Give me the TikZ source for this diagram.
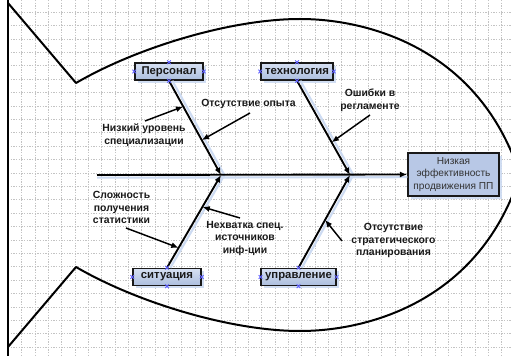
\documentclass[tikz,border=0pt]{standalone}
\usepackage{fontspec}
\setmainfont{Liberation Sans}
\usetikzlibrary{arrows.meta,shadows,calc}
\definecolor{boxtop}{RGB}{214,224,242}
\definecolor{boxbot}{RGB}{172,190,222}
\definecolor{shadec}{RGB}{205,219,242}
\definecolor{gridc}{RGB}{195,195,195}
\definecolor{markc}{RGB}{95,95,255}
\definecolor{textc}{RGB}{25,25,25}
\begin{document}
\begin{tikzpicture}[x=0.75pt,y=-0.75pt,
  causebox/.style={draw=black!90,line width=1.1pt,top color=boxtop,bottom color=boxbot,
    minimum height=12.75pt,inner sep=1pt,font=\fontsize{8.5}{10}\selectfont\bfseries,text=textc,
    drop shadow={shadow xshift=2.2pt,shadow yshift=-2.2pt,fill=shadec,opacity=0.9}},
  effbox/.style={draw=black!90,line width=1.1pt,fill={rgb,255:red,184;green,200;blue,230},
    minimum width=68.25pt,minimum height=32.25pt,inner sep=1pt,align=center,
    font=\fontsize{7.6}{9.3}\selectfont,text=black!80,
    drop shadow={shadow xshift=2.2pt,shadow yshift=-2.2pt,fill=shadec,opacity=0.9}},
  lbl/.style={align=center,inner sep=0pt,font=\fontsize{7.8}{9.5}\selectfont\bfseries,text=textc},
  bone/.style={line width=1.4pt,-{Latex[length=5.5pt,width=4.5pt]}},
  boneshadow/.style={line width=1.6pt,draw=shadec},
  sub/.style={line width=1.1pt,-{Latex[length=5.5pt,width=4.5pt]}},
  fish/.style={line width=1.5pt,line join=round},
  gridline/.style={draw=gridc,line width=0.4pt,dash pattern=on 1pt off 1pt},
  markx/.style={draw=markc,line width=0.6pt}]
\useasboundingbox (0,0) rectangle (511,356);
\clip (0,0) rectangle (511,356);
\fill[white] (0,0) rectangle (511,356);
% grid
\foreach \i in {0,...,37} {\draw[gridline] ({21.7+13.33*\i},0) -- ({21.7+13.33*\i},356);}
\foreach \j in {0,...,26} {\draw[gridline] (8,{12+13.4*\j}) -- (511,{12+13.4*\j});}
% page border
\draw[line width=1.1pt] (8,0) -- (8,356);
% fish outline
\draw[fish] (8,3) -- (76,83) .. controls (136,48) and (230,19) .. (300,19)
  .. controls (370,19) and (480,50) .. (520,175);
\draw[fish] (8,347) -- (76,267) .. controls (136,302) and (230,331) .. (300,331)
  .. controls (370,331) and (480,300) .. (520,175);
% nodes
\node[effbox] (eff) at (453.5,174.5) {Низкая\\эффективность\\продвижения ПП};
\coordinate (s0) at (97,175);
\coordinate (j1) at (221,175);
\coordinate (j2) at (350,175);
\node[causebox,minimum width=51pt] (pers) at (169,71.5) {Персонал};
\node[causebox,minimum width=54pt] (tech) at (297,71.5) {технология};
\node[causebox,minimum width=51pt] (sit) at (167,277) {ситуация};
\node[causebox,minimum width=56pt] (upr) at (298.5,277) {управление};
% shadows of spine and bones
\draw[boneshadow] ([yshift=-2pt]s0) -- ([yshift=-2pt]eff.west);
\draw[boneshadow] ([xshift=2.5pt]pers.south) -- ([xshift=2.5pt]j1);
\draw[boneshadow] ([xshift=2.5pt]tech.south) -- ([xshift=2.5pt]j2);
\draw[boneshadow] ([xshift=2.5pt]sit.north) -- ([xshift=2.5pt]j1);
\draw[boneshadow] ([xshift=2.5pt]upr.north) -- ([xshift=2.5pt]j2);
% spine and bones
\draw[bone] (s0) -- (eff.west);
\draw[bone] (pers.south) -- (j1);
\draw[bone] (tech.south) -- (j2);
\draw[bone] (sit.north) -- (j1);
\draw[bone] (upr.north) -- (j2);
% markers
\foreach \n in {pers,tech,sit,upr}{
  \foreach \a in {north,south,east,west}{
    \draw[markx] (\n.\a) +(-1.8,-1.8) -- +(1.8,1.8) +(-1.8,1.8) -- +(1.8,-1.8);
  }
}
% labels
\node[lbl] (l1) at (144,135) {Низкий уровень\\специализации};
\node[lbl] (l2) at (248.5,104) {Отсутствие опыта};
\node[lbl] (l3) at (370,100) {Ошибки в\\регламенте};
\node[lbl] (l4) at (121.5,207.5) {Сложность\\получения\\статистики};
\node[lbl] (l5) at (245,238.5) {Нехватка спец.\\источников\\инф-ции};
\node[lbl] (l6) at (393.5,240.5) {Отсутствие\\стратегического\\планирования};
% sub-cause arrows
\coordinate (a1) at (145,121);
\coordinate (a2) at (250,113);
\coordinate (a3) at (370,115);
\coordinate (a4) at (126,228);
\coordinate (a5) at (240,218);
\coordinate (a6) at (342,241);
\coordinate (b1) at ($(pers.south)!0.274!(j1)$);
\coordinate (b2) at ($(pers.south)!0.63!(j1)$);
\coordinate (b3) at ($(tech.south)!0.653!(j2)$);
\coordinate (b4) at ($(sit.north)!0.215!(j1)$);
\coordinate (b5) at ($(sit.north)!0.656!(j1)$);
\coordinate (b6) at ($(upr.north)!0.516!(j2)$);
\draw[sub] (a1) -- (b1);
\draw[sub] (a2) -- (b2);
\draw[sub] (a3) -- (b3);
\draw[sub] (a4) -- (b4);
\draw[sub] (a5) -- (b5);
\draw[sub] (a6) -- (b6);
\end{tikzpicture}
\end{document}
